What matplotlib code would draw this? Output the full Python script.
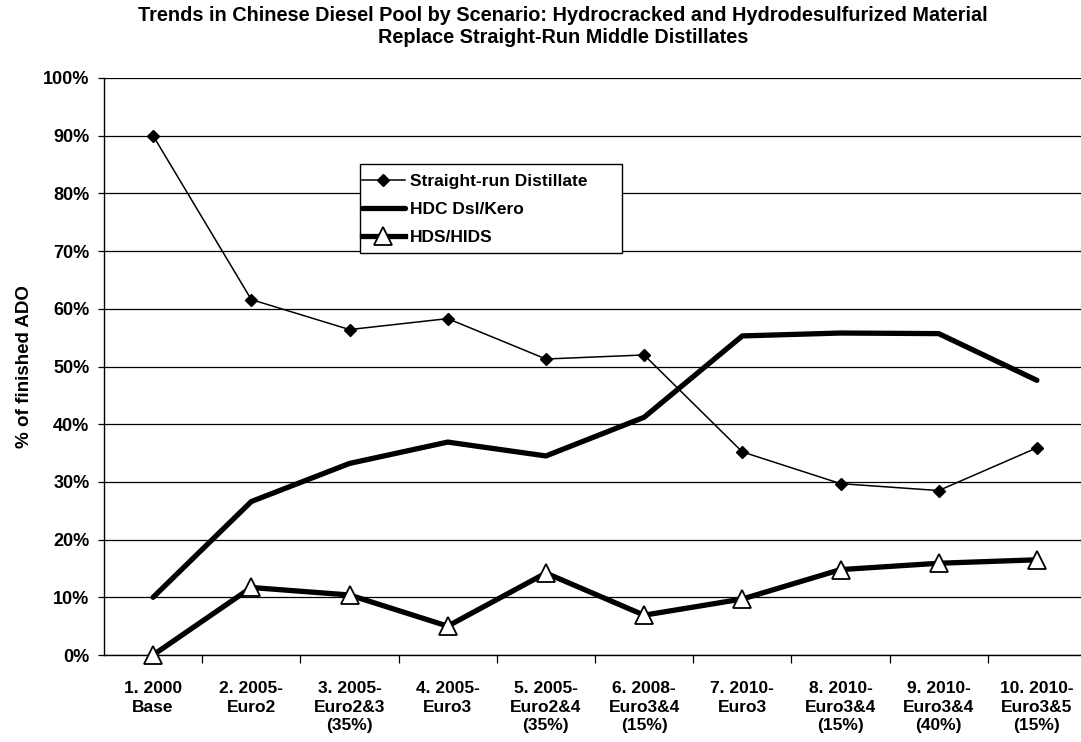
import matplotlib
matplotlib.use("Agg")
import matplotlib.pyplot as plt
from matplotlib.patches import Rectangle
from matplotlib.ticker import FixedLocator, PercentFormatter

# Scenario labels (three lines each) and diesel pool shares (% of finished ADO)
scenarios = [
    "1. 2000\nBase\n",
    "2. 2005-\nEuro2\n",
    "3. 2005-\nEuro2&3\n(35%)",
    "4. 2005-\nEuro3\n",
    "5. 2005-\nEuro2&4\n(35%)",
    "6. 2008-\nEuro3&4\n(15%)",
    "7. 2010-\nEuro3\n",
    "8. 2010-\nEuro3&4\n(15%)",
    "9. 2010-\nEuro3&4\n(40%)",
    "10. 2010-\nEuro3&5\n(15%)",
]
straight_run = [90.0, 61.6, 56.4, 58.3, 51.3, 52.0, 35.2, 29.7, 28.5, 35.9]
hdc_dsl_kero = [10.0, 26.6, 33.2, 36.9, 34.5, 41.2, 55.3, 55.8, 55.7, 47.6]
hds_hids = [0.0, 11.7, 10.4, 5.0, 14.2, 6.9, 9.7, 14.8, 15.9, 16.5]

plt.rcParams["font.family"] = ["Liberation Sans", "DejaVu Sans"]
plt.rcParams["font.weight"] = "bold"

W, H = 1081, 742
fig = plt.figure(figsize=(W / 100, H / 100), dpi=100)
ax_left, ax_right, ax_top, ax_bottom = 104, 1086, 78, 655
ax = fig.add_axes([ax_left / W, 1 - ax_bottom / H,
                   (ax_right - ax_left) / W, (ax_bottom - ax_top) / H])


def px_to_axes(px, py):
    return ((px - ax_left) / (ax_right - ax_left),
            (ax_bottom - py) / (ax_bottom - ax_top))


x = list(range(len(scenarios)))

ax.plot(x, straight_run, color="black", lw=1.1, marker="D", ms=6.5,
        mfc="black", mec="black", label="Straight-run Distillate", zorder=4)
ax.plot(x, hdc_dsl_kero, color="black", lw=3.8, solid_capstyle="round",
        label="HDC Dsl/Kero", zorder=3)
ax.plot(x, hds_hids, color="black", lw=3.8, marker="^", ms=13,
        mfc="white", mec="black", mew=1.3, label="HDS/HIDS", zorder=5,
        clip_on=False)

ax.set_xlim(-0.5, len(scenarios) - 0.5)
ax.set_ylim(0, 100)

ax.yaxis.set_major_locator(FixedLocator(range(0, 101, 10)))
ax.yaxis.set_major_formatter(PercentFormatter(decimals=0))
ax.grid(axis="y", color="black", lw=0.9)
ax.set_axisbelow(True)

ax.set_xticks(x)
ax.set_xticklabels(scenarios, fontsize=12.5, fontweight="bold", linespacing=1.32,
                   va="top")
ax.tick_params(axis="x", which="major", length=0, pad=18.5)
ax.set_xticks([i + 0.5 for i in x[:-1]], minor=True)
ax.tick_params(axis="x", which="minor", length=6, width=0.9, direction="out")
ax.tick_params(axis="y", length=4.5, width=0.9, direction="out", pad=6,
               labelsize=13)
for lbl in ax.get_yticklabels():
    lbl.set_fontweight("bold")

for side in ("top", "right"):
    ax.spines[side].set_visible(False)
ax.spines["left"].set_linewidth(1.0)
ax.spines["bottom"].set_linewidth(1.0)

ax.set_ylabel("% of finished ADO", fontsize=13.5, fontweight="bold", labelpad=7)

fig.text(563 / W, 1 - 26.5 / H,
         "Trends in Chinese Diesel Pool by Scenario: Hydrocracked and Hydrodesulfurized Material\n"
         "Replace Straight-Run Middle Distillates",
         ha="center", va="center", fontsize=14.3, fontweight="bold",
         linespacing=1.17)

leg = ax.legend(loc="upper left", bbox_to_anchor=px_to_axes(357, 169),
                borderaxespad=0, frameon=False,
                prop={"size": 12.5, "weight": "bold"},
                handlelength=2.45, handletextpad=0.3, labelspacing=0.72,
                borderpad=0.3)
leg.set_zorder(7)

# Legend box drawn as a separate white rectangle behind the entries
bx0, by0 = px_to_axes(360, 253)
bx1, by1 = px_to_axes(622, 164)
ax.add_patch(Rectangle((bx0, by0), bx1 - bx0, by1 - by0, transform=ax.transAxes,
                       facecolor="white", edgecolor="black", lw=1.0, zorder=6,
                       clip_on=False))

fig.savefig("out.png", dpi=100)
